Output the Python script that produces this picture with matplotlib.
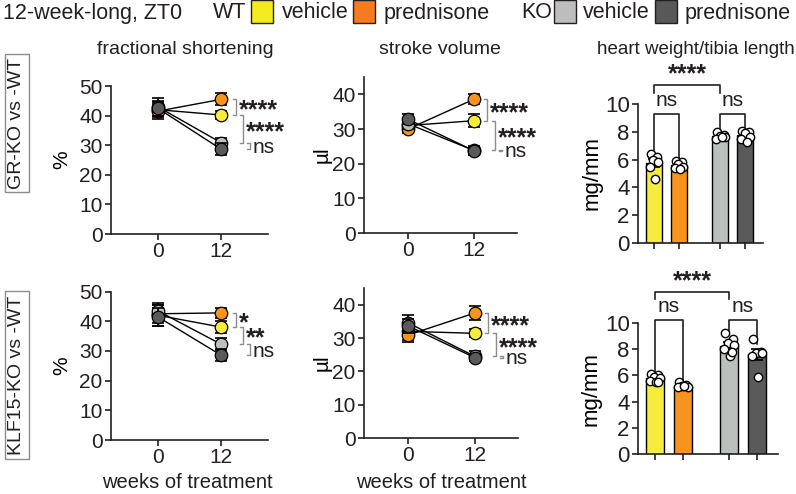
import numpy as np
import matplotlib
matplotlib.use("Agg")
import matplotlib.pyplot as plt
from matplotlib.patches import Rectangle

plt.rcParams['font.family'] = ['Liberation Sans', 'DejaVu Sans']
plt.rcParams['text.color'] = '#231f20'
plt.rcParams['axes.edgecolor'] = '#231f20'
plt.rcParams['xtick.color'] = '#231f20'
plt.rcParams['ytick.color'] = '#231f20'

W, H = 796, 494

# group order: WT vehicle, WT prednisone, KO vehicle, KO prednisone
colors = ['#f5ec3c', '#f7941d', '#bcc0bc', '#5a5a5a']
legend_colors = ['#f5ec1e', '#f47b20', '#bdbdbd', '#585858']
weeks = [0, 12]

# GR-KO vs -WT
gr_fs_mean = [[42.0, 40.2], [41.5, 45.5], [43.0, 30.8], [42.5, 28.6]]
gr_fs_err = [[2.5, 1.5], [2.5, 2.0], [3.0, 1.5], [2.5, 2.0]]
gr_sv_mean = [[31.0, 32.4], [30.0, 38.6], [31.5, 23.8], [32.8, 23.7]]
gr_sv_err = [[1.5, 1.8], [1.2, 1.5], [1.5, 1.2], [1.5, 1.2]]
gr_hw_mean = [5.75, 5.6, 7.7, 7.8]
gr_hw_err = [0.3, 0.12, 0.1, 0.12]
gr_hw_pts = [[6.4, 6.2, 6.0, 5.8, 5.5, 4.6],
             [5.9, 5.85, 5.7, 5.5, 5.4, 5.3],
             [8.0, 7.8, 7.7, 7.6, 7.5, 7.6],
             [8.05, 8.0, 7.9, 7.6, 7.5, 7.3]]

# KLF15-KO vs -WT
klf_fs_mean = [[42.0, 38.0], [42.5, 42.8], [43.5, 32.2], [41.5, 28.5]]
klf_fs_err = [[3.5, 2.0], [3.0, 1.8], [2.5, 2.0], [3.0, 2.0]]
klf_sv_mean = [[32.0, 31.4], [30.9, 37.5], [34.5, 24.5], [33.6, 24.1]]
klf_sv_err = [[2.5, 1.2], [2.0, 2.0], [2.5, 1.5], [2.0, 1.0]]
klf_hw_mean = [5.8, 5.2, 8.25, 7.6]
klf_hw_err = [0.12, 0.1, 0.3, 0.45]
klf_hw_pts = [[6.1, 6.0, 5.9, 5.8, 5.6, 5.5, 5.5],
              [5.5, 5.3, 5.2, 5.1, 5.1, 5.2],
              [9.2, 8.8, 8.5, 8.3, 8.0, 7.5, 7.8],
              [8.8, 7.8, 7.7, 7.7, 7.5, 5.9]]

# stats at week 12: (WT pred vs WT veh), (WT veh vs KO veh), (KO veh vs KO pred)
line_pairs = [(1, 0), (0, 2), (2, 3)]
gr_fs_stats = ['****', '****', 'ns']
gr_sv_stats = ['****', '****', 'ns']
klf_fs_stats = ['*', '**', 'ns']
klf_sv_stats = ['****', '****', 'ns']
gr_hw_stats = ['ns', 'ns', '****']
klf_hw_stats = ['ns', 'ns', '****']

bar_x = [0, 1, 2.65, 3.65]
jitter = [-0.14, 0.13, -0.03, 0.17, -0.17, 0.05, 0.1]

fig = plt.figure(figsize=(W / 100, H / 100), dpi=100)


def rect(l, r, b, t):
    return [l / W, 1 - b / H, (r - l) / W, (b - t) / H]


def style(ax, fs):
    for s in ['top', 'right']:
        ax.spines[s].set_visible(False)
    for s in ['left', 'bottom']:
        ax.spines[s].set_linewidth(1.2)
    ax.tick_params(width=1.2, length=4, labelsize=fs, pad=2)


def stat_text(ax, x, y, lab, fs):
    if lab == 'ns':
        ax.annotate(lab, xy=(x, y), xytext=(2, -0.32 * fs),
                    textcoords='offset points', fontsize=fs, va='baseline',
                    ha='left', annotation_clip=False)
    else:
        ax.annotate(lab, xy=(x, y), xytext=(2, -0.4 * (fs + 3)),
                    textcoords='offset points', fontsize=fs + 3,
                    fontweight='bold', va='baseline', ha='left',
                    annotation_clip=False)


def line_panel(ax, mean, err, stats, ylim, yticks, xlim, ylabel, xs, ylx):
    style(ax, 15)
    for g in [1, 0, 2, 3]:
        ax.errorbar(weeks, mean[g], yerr=err[g], color='black', lw=1,
                    capsize=4, capthick=1.2, elinewidth=1.2, zorder=2 + g)
        ax.plot(weeks, mean[g], 'o', ms=9, mfc=colors[g], mec='black',
                mew=0.9, zorder=3 + g)
    ax.set_xlim(*xlim)
    ax.set_ylim(*ylim)
    ax.set_yticks(yticks)
    ax.set_xticks(weeks)
    ax.spines['left'].set_bounds(0, ylim[1])
    ax.set_ylabel(ylabel, fontsize=15)
    ax.yaxis.set_label_coords(ylx, 0.5)
    for k, (a, b) in enumerate(line_pairs):
        y1, y2 = mean[a][1], mean[b][1]
        x = xs[k]
        ax.plot([x - 0.6, x, x, x - 0.6], [y1, y1, y2, y2], color='#8c8c8c',
                lw=1, clip_on=False)
        stat_text(ax, x, (y1 + y2) / 2, stats[k], 15)


def bar_panel(ax, mean, err, pts, stats, lvl, xlim, ylx):
    style(ax, 16)
    ax.bar(bar_x, mean, width=0.64, color=colors, edgecolor='black', lw=1,
           zorder=2)
    ax.errorbar(bar_x, mean, yerr=err, fmt='none', ecolor='black',
                elinewidth=1.2, capsize=4, capthick=1.2, zorder=3)
    for g in range(4):
        n = len(pts[g])
        offs = np.array(jitter[:n])
        ax.plot(bar_x[g] + offs, pts[g], 'o', ms=6, mfc='white',
                mec='black', mew=1, zorder=4)
    ax.set_xlim(*xlim)
    ax.set_ylim(0, 10)
    ax.set_yticks([0, 2, 4, 6, 8, 10])
    ax.set_xticks(bar_x)
    ax.set_xticklabels([])
    ax.spines['left'].set_bounds(0, 10)
    ax.set_ylabel('mg/mm', fontsize=16)
    ax.yaxis.set_label_coords(ylx, 0.5)
    top_ns, legs, top_all, leg_all = lvl
    for k, (a, b) in enumerate([(0, 1), (2, 3)]):
        ax.plot([bar_x[a], bar_x[a], bar_x[b], bar_x[b]],
                [legs[k][0], top_ns, top_ns, legs[k][1]], color='#231f20',
                lw=1.2, clip_on=False)
        ax.text((bar_x[a] + bar_x[b]) / 2, top_ns + 0.3, stats[k],
                fontsize=15, ha='center', va='bottom', clip_on=False)
    ax.plot([bar_x[0], bar_x[0], bar_x[2], bar_x[2]],
            [leg_all, top_all, top_all, leg_all], color='#231f20', lw=1.2,
            clip_on=False)
    ax.annotate(stats[2], xy=((bar_x[0] + bar_x[2]) / 2, top_all),
                xytext=(0, 2.5), textcoords='offset points', fontsize=18,
                fontweight='bold', ha='center', va='baseline',
                annotation_clip=False)


ax1 = fig.add_axes(rect(111, 268, 234, 86))
line_panel(ax1, gr_fs_mean, gr_fs_err, gr_fs_stats, (0, 50),
           [0, 10, 20, 30, 40, 50], (-8.8, 20.8), '%', [14.8, 16.1, 17.4], -0.25)
ax2 = fig.add_axes(rect(364, 517, 233, 77))
line_panel(ax2, gr_sv_mean, gr_sv_err, gr_sv_stats, (0, 45),
           [0, 10, 20, 30, 40], (-8, 19.8), 'µl', [14.4, 15.8, 17.1], -0.21)
ax3 = fig.add_axes(rect(638, 763, 243, 104))
bar_panel(ax3, gr_hw_mean, gr_hw_err, gr_hw_pts, gr_hw_stats,
          (9.3, [(6.4, 6.0), (8.3, 8.3)], 11.4, 10.8), (-0.64, 4.36), -0.28)

ax4 = fig.add_axes(rect(111, 268, 440, 291.5))
line_panel(ax4, klf_fs_mean, klf_fs_err, klf_fs_stats, (0, 50),
           [0, 10, 20, 30, 40, 50], (-8.8, 20.8), '%', [14.8, 16.1, 17.4], -0.25)
ax5 = fig.add_axes(rect(364, 518, 438, 288))
line_panel(ax5, klf_sv_mean, klf_sv_err, klf_sv_stats, (0, 45),
           [0, 10, 20, 30, 40], (-8, 19.8), 'µl', [14.4, 15.8, 17.1], -0.21)
ax6 = fig.add_axes(rect(638, 778, 454, 323))
bar_panel(ax6, klf_hw_mean, klf_hw_err, klf_hw_pts, klf_hw_stats,
          (10.2, [(6.2, 5.6), (9.5, 8.4)], 12.4, 11.8), (-0.6, 4.4), -0.26)

# x-axis labels under bottom row
for x in [187, 441]:
    fig.text(x / W, 1 - 482 / H, 'weeks of treatment', fontsize=14.5,
             ha='center', va='center')

# column titles
fig.text(185 / W, 1 - 50 / H, 'fractional shortening', fontsize=14,
         ha='center', va='center')
fig.text(440 / W, 1 - 50 / H, 'stroke volume', fontsize=14,
         ha='center', va='center')
fig.text(795 / W, 1 - 50 / H, 'heart weight/tibia length', fontsize=13.5,
         ha='right', va='center')

# row labels
for y, t in [(123, 'GR-KO vs -WT'), (375, 'KLF15-KO vs -WT')]:
    fig.text(17 / W, 1 - y / H, t, fontsize=14, rotation=90, ha='center',
             va='center', bbox=dict(boxstyle='square,pad=0.2', fc='white',
                                    ec='#8c8c8c', lw=1))

# header legend
fig.text(3 / W, 1 - 13 / H, '12-week-long, ZT0', fontsize=15.5, va='center')
items = [(213, 'WT', None), (251, None, 0), (282, 'vehicle', None),
         (353, None, 1), (384, 'prednisone', None),
         (521, 'KO', None), (554, None, 2), (583, 'vehicle', None),
         (655, None, 3), (685, 'prednisone', None)]
for x, t, c in items:
    if t is not None:
        fig.text(x / W, 1 - 13 / H, t, fontsize=15.5, va='center')
    else:
        fig.patches.append(Rectangle((x / W, 1 - 23 / H), 22 / W, 23 / H,
                                     transform=fig.transFigure,
                                     fc=legend_colors[c], ec='#231f20', lw=1))

fig.savefig('out.png', dpi=100)
